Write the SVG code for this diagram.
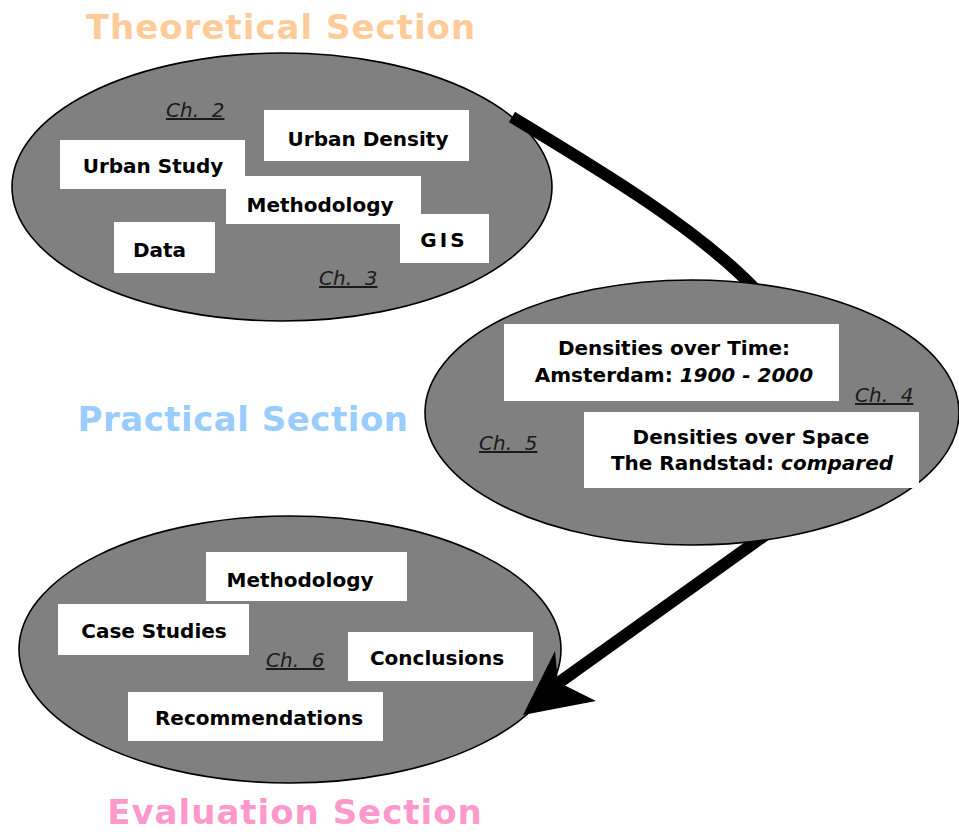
<svg xmlns="http://www.w3.org/2000/svg" width="959" height="832" viewBox="0 0 959 832">
<style>
.ell{fill:#808080;stroke:#000;stroke-width:1.6}
.box{fill:#fff}
.lbl{font-family:"DejaVu Sans",Verdana,sans-serif;font-weight:bold;font-size:20px;fill:#000;text-anchor:middle}
.ch{font-family:"DejaVu Sans",Verdana,sans-serif;font-style:italic;font-size:20px;fill:#1a1a1a;text-decoration:underline}
.title{font-family:"DejaVu Sans",Verdana,sans-serif;font-weight:bold;font-size:34px;text-anchor:middle;letter-spacing:1px}
.it{font-style:italic}
.conn{fill:none;stroke:#000;stroke-width:12;stroke-linejoin:round}
</style>
<text class="title" x="281" y="39" fill="#FFCC99">Theoretical Section</text>
<text class="title" x="243" y="431" fill="#99CCFF" style="letter-spacing:0.5px">Practical Section</text>
<text class="title" x="295" y="824" fill="#FF99CC">Evaluation Section</text>
<g id="theoretical">
<ellipse class="ell" cx="282" cy="187" rx="270" ry="134"/>
<rect class="box" x="264" y="110" width="205" height="51"/>
<text class="lbl" x="368" y="146">Urban Density</text>
<rect class="box" x="60" y="140" width="185" height="49"/>
<rect class="box" x="226" y="176" width="195" height="48"/>
<text class="lbl" x="153" y="173">Urban Study</text>
<text class="lbl" x="320" y="212">Methodology</text>
<rect class="box" x="400" y="214" width="89" height="49"/>
<text class="lbl" x="444" y="247" style="letter-spacing:3px">GIS</text>
<rect class="box" x="114" y="222" width="101" height="51"/>
<text class="lbl" x="159.5" y="257">Data</text>
<text class="ch" x="166" y="117" xml:space="preserve">Ch.  2</text>
<text class="ch" x="319" y="285" xml:space="preserve">Ch.  3</text>
</g>
<g id="evaluation">
<ellipse class="ell" cx="290" cy="649.5" rx="271" ry="133.5"/>
<rect class="box" x="206" y="552" width="201" height="49"/>
<text class="lbl" x="300" y="587">Methodology</text>
<rect class="box" x="58" y="604" width="191" height="51"/>
<text class="lbl" x="154" y="638">Case Studies</text>
<rect class="box" x="348" y="632" width="185" height="49"/>
<text class="lbl" x="437" y="665">Conclusions</text>
<rect class="box" x="128" y="692" width="255" height="49"/>
<text class="lbl" x="259" y="725">Recommendations</text>
<text class="ch" x="266" y="667" xml:space="preserve">Ch.  6</text>
</g>
<g id="connectors">
<path class="conn" d="M512,117 C600,170 700,230 758,292"/>
<path class="conn" d="M775,528 L557,684"/>
<polygon points="523,715 555,651 558,682 596,701" fill="#000"/>
</g>
<g id="practical">
<ellipse class="ell" cx="692" cy="412.5" rx="267" ry="132.5"/>
<rect class="box" x="504" y="324" width="335" height="77"/>
<text class="lbl" x="674" y="355">Densities over Time:</text>
<text class="lbl" x="674" y="382">Amsterdam:  <tspan class="it">1900 - 2000</tspan></text>
<rect class="box" x="584" y="412" width="335" height="76"/>
<text class="lbl" x="751" y="444">Densities over Space</text>
<text class="lbl" x="752" y="470">The Randstad:  <tspan class="it">compared</tspan></text>
<text class="ch" x="855" y="402" xml:space="preserve">Ch.  4</text>
<text class="ch" x="479" y="450" xml:space="preserve">Ch.  5</text>
</g>
</svg>
